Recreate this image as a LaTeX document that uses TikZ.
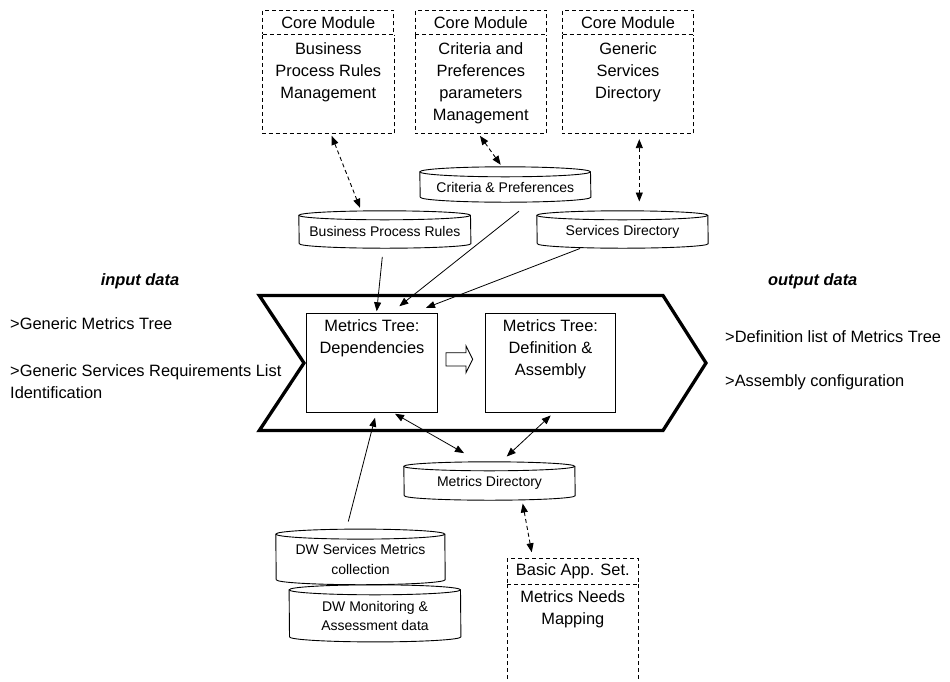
\documentclass[tikz,border=0pt]{standalone}
\usepackage{fontspec}
\setmainfont{Liberation Sans}
\usetikzlibrary{arrows.meta,calc,backgrounds}

\newcommand\bigtxt{\fontsize{16.4}{22}\selectfont}
\newcommand\smalltxt{\fontsize{14}{19.2}\selectfont}

% database cylinder drawn around a node: #1 name, #2 half width, #3 ellipse radius
\newcommand\dbcyl[3]{%
  \begin{pgfonlayer}{background}
    \filldraw[cylline, fill=white]
      ([yshift=#3]#1.north west) arc[start angle=180, end angle=0, x radius=#2, y radius=#3]
      -- (#1.south east) arc[start angle=0, end angle=-180, x radius=#2, y radius=#3]
      -- cycle;
    \draw[cylline] ([yshift=#3]#1.north west)
      arc[start angle=180, end angle=360, x radius=#2, y radius=#3];
  \end{pgfonlayer}}

% open body of a module box below its header
\newcommand\modbody[1]{%
  \draw[dashline] (#1.north west) -- (#1.south west) -- (#1.south east) -- (#1.north east);}

\tikzset{
  dashline/.style={line width=0.9pt, dash pattern=on 4pt off 3pt},
  modhead/.style={draw, dashline, inner sep=0pt, minimum width=131pt,
    minimum height=24.3pt, font=\bigtxt},
  modbox/.style={inner sep=0pt, minimum width=131pt, minimum height=98.7pt, anchor=north},
  modtext/.style={font=\bigtxt, align=center, inner sep=0pt, anchor=north},
  cylline/.style={line width=0.9pt},
  db/.style={inner sep=0pt, font=\smalltxt, align=center},
  stage/.style={draw, line width=0.9pt, inner sep=0pt, minimum width=130.6pt,
    minimum height=99pt},
  sidetext/.style={font=\bigtxt, inner sep=0pt, anchor=base west},
  heading/.style={font=\bigtxt\bfseries\itshape, inner sep=0pt, anchor=base},
  tip/.tip={Triangle[length=9pt, width=7pt]},
  link/.style={line width=0.8pt, -tip},
  blink/.style={line width=0.8pt, tip-tip},
  dlink/.style={blink, dashline},
}

\begin{document}
\begin{tikzpicture}[x=1pt, y=1pt]
\useasboundingbox (0,0) rectangle (950,-681);

% core modules
\node[modhead] (h1) at (328.3,-22.15) {Core Module};
\node[modbox] (m1) at (h1.south) {};
\modbody{m1}
\node[modtext] (t1) at ([yshift=-7.4]m1.north) {Business\\Process Rules\\Management};

\node[modhead] (h2) at (480.8,-22.15) {Core Module};
\node[modbox] (m2) at (h2.south) {};
\modbody{m2}
\node[modtext] (t2) at ([yshift=-7.4]m2.north) {Criteria and\\Preferences\\parameters\\Management};

\node[modhead] (h3) at (628,-22.15) {Core Module};
\node[modbox] (m3) at (h3.south) {};
\modbody{m3}
\node[modtext] (t3) at ([yshift=-7.4]m3.north) {Generic\\Services\\Directory};

% data stores
\node[db, minimum width=170.7pt, minimum height=20pt] (cp) at (505.35,-187) {Criteria \& Preferences};
\dbcyl{cp}{85.35}{5}
\node[db, minimum width=171.7pt, minimum height=23.5pt] (bpr) at (384.85,-231.75) {Business Process Rules};
\dbcyl{bpr}{85.85}{4.5}
\node[db, minimum width=171pt, minimum height=23.5pt] (sd) at (622.5,-231.75) {Services Directory};
\dbcyl{sd}{85.5}{4.5}
\node[db, minimum width=171pt, minimum height=24.5pt] (md) at (489.5,-483.25) {Metrics Directory};
\dbcyl{md}{85.5}{4.5}
\node[db, minimum width=171.4pt, minimum height=41.7pt] (dwm) at (375,-615.85) {DW Monitoring \&\\Assessment data};
\dbcyl{dwm}{85.7}{5}
\node[db, minimum width=169pt, minimum height=40.2pt] (dws) at (360.5,-559.4) {DW Services Metrics\\collection};
\dbcyl{dws}{84.5}{5}

% process chevron
\draw[line width=3.3pt, line join=miter]
  (259.3,-295.5) -- (663,-295.5) -- (706,-363) -- (663,-430.5) -- (259.3,-430.5) -- (304,-363) -- cycle;

\node[stage] (dep) at (372,-362.8) {};
\node[modtext] (tdep) at ([yshift=-6.7]dep.north) {Metrics Tree:\\Dependencies};
\node[stage] (def) at (550.5,-362.8) {};
\node[modtext] (tdef) at ([yshift=-6.7]def.north) {Metrics Tree:\\Definition \&\\Assembly};

% hollow step arrow
\draw[line width=0.9pt, line join=miter]
  (446,-352.7) -- (466,-352.7) -- (466,-346) -- (472.7,-359.3) -- (466,-372.7)
  -- (466,-366) -- (446,-366) -- cycle;

% basic application set
\node[modhead, minimum height=25.7pt] (bh) at (572.8,-571.15) {Basic App. Set.};
\node[modbox, minimum height=97pt] (bb) at (bh.south) {};
\draw[dashline] (bb.north west) -- (bb.south west);
\draw[dashline] (bb.north east) -- (bb.south east);
\node[modtext] (tb) at ([yshift=-6.1]bb.north) {Metrics Needs\\Mapping};

% side texts
\node[heading] (inh) at (140,-285.5) {input data};
\node[sidetext] (in1) at (10,-329.2) {>Generic Metrics Tree};
\node[font=\bigtxt, align=left, inner sep=0pt, anchor=north west] (in2) at (10,-364.1)
  {>Generic Services Requirements List\\Identification};
\node[heading] (outh) at (812.7,-285.5) {output data};
\node[sidetext] (out1) at (725,-342.6) {>Definition list of Metrics Tree};
\node[sidetext] (out2) at (725,-386.6) {>Assembly configuration};

% connectors
\draw[dlink] ([shift={(3.4,-2)}]m1.south) -- ([shift={(-24.85,12)}]bpr.north);
\draw[dlink] ([shift={(-0.8,-2)}]m2.south) -- ([shift={(-4.65,12)}]cp.north);
\draw[dlink] ([shift={(11.3,-5.3)}]m3.south) -- ([shift={(16.8,18.3)}]sd.north);

\draw[link] ([shift={(13.65,-14)}]cp.south) -- ([shift={(27.3,6.6)}]dep.north);
\draw[link] ([shift={(-42.5,-4.8)}]sd.south) -- ([shift={(54,5)}]dep.north);
\draw[link] ([shift={(-2.55,-13.2)}]bpr.south) -- ([shift={(4.7,1.6)}]dep.north);

\draw[blink] ([shift={(23,-1)}]dep.south) -- ([shift={(-25.5,17.7)}]md.north);
\draw[blink] ([shift={(0.2,-2.7)}]def.south) -- ([shift={(17.2,14.3)}]md.north);
\draw[link] ([shift={(-12.2,17.6)}]dws.north) -- ([shift={(3,-5)}]dep.south);
\draw[dlink] ([shift={(33.2,-7.8)}]md.south) -- ([shift={(-41.1,5.6)}]bh.north);
\end{tikzpicture}
\end{document}
